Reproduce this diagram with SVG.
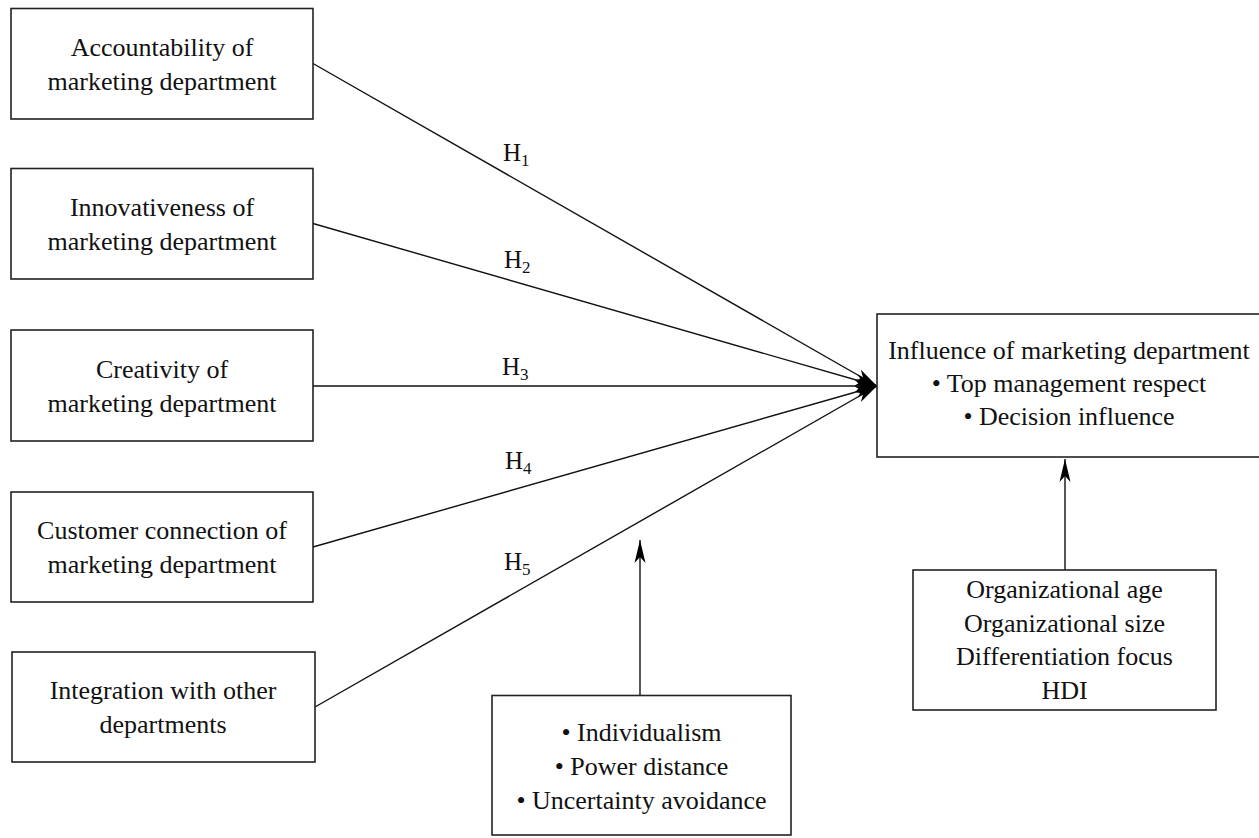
<svg xmlns="http://www.w3.org/2000/svg" width="1259" height="838" viewBox="0 0 1259 838">
<style>
  .box { fill: #ffffff; stroke: #222222; stroke-width: 1.6; }
  .t { font-family: "Liberation Serif", "Times New Roman", serif; font-size: 26px; fill: #111111; text-anchor: middle; }
  .h { font-family: "Liberation Serif", "Times New Roman", serif; font-size: 25px; fill: #111111; }
  .sub { font-size: 17px; }
  .edge { fill: none; stroke: #111111; stroke-width: 1.4; }
</style>
<defs>
  <marker id="arr" markerUnits="userSpaceOnUse" markerWidth="30" markerHeight="20" refX="0" refY="0" viewBox="-24 -10 26 20" orient="auto">
    <path d="M0,0 L-22,-6 L-16,0 L-22,6 Z" fill="#000000"/>
  </marker>
  <marker id="arrv" markerUnits="userSpaceOnUse" markerWidth="30" markerHeight="20" refX="0" refY="0" viewBox="-24 -10 26 20" orient="auto">
    <path d="M0,0 L-23,-5.5 L-17,0 L-23,5.5 Z" fill="#000000"/>
  </marker>
</defs>
<rect width="1259" height="838" fill="#ffffff"/>

<g id="connectors">
  <line class="edge" x1="313" y1="63.5" x2="877" y2="386" marker-end="url(#arr)"/>
  <line class="edge" x1="313" y1="223.5" x2="877" y2="386" marker-end="url(#arr)"/>
  <line class="edge" x1="313" y1="386" x2="877" y2="386" marker-end="url(#arr)"/>
  <line class="edge" x1="313" y1="547" x2="877" y2="386" marker-end="url(#arr)"/>
  <line class="edge" x1="315" y1="707" x2="877" y2="386" marker-end="url(#arr)"/>
  <line class="edge" x1="640" y1="695" x2="640" y2="540" marker-end="url(#arrv)"/>
  <line class="edge" x1="1065" y1="570" x2="1065" y2="459" marker-end="url(#arrv)"/>
  <text class="h" x="503" y="161">H<tspan class="sub" dy="5">1</tspan></text>
  <text class="h" x="504" y="268">H<tspan class="sub" dy="5">2</tspan></text>
  <text class="h" x="502" y="375">H<tspan class="sub" dy="5">3</tspan></text>
  <text class="h" x="505" y="469">H<tspan class="sub" dy="5">4</tspan></text>
  <text class="h" x="504" y="570">H<tspan class="sub" dy="5">5</tspan></text>
</g>

<g id="accountability">
  <rect class="box" x="11" y="8.5" width="302" height="110.5"/>
  <text class="t" x="162" y="55.5">Accountability of</text>
  <text class="t" x="162" y="89.5">marketing department</text>
</g>
<g id="innovativeness">
  <rect class="box" x="11" y="168.5" width="302" height="110.5"/>
  <text class="t" x="162" y="215.5">Innovativeness of</text>
  <text class="t" x="162" y="249.5">marketing department</text>
</g>
<g id="creativity">
  <rect class="box" x="11" y="330" width="302" height="111"/>
  <text class="t" x="162" y="377.5">Creativity of</text>
  <text class="t" x="162" y="411.5">marketing department</text>
</g>
<g id="customer-connection">
  <rect class="box" x="11" y="492" width="302" height="110"/>
  <text class="t" x="162" y="539">Customer connection of</text>
  <text class="t" x="162" y="573">marketing department</text>
</g>
<g id="integration">
  <rect class="box" x="12" y="652" width="303" height="110"/>
  <text class="t" x="163" y="699">Integration with other</text>
  <text class="t" x="163" y="733">departments</text>
</g>
<g id="influence">
  <rect class="box" x="877" y="314" width="384" height="143"/>
  <text class="t" x="1069" y="359">Influence of marketing department</text>
  <text class="t" x="1069" y="392">• Top management respect</text>
  <text class="t" x="1069" y="425">• Decision influence</text>
</g>
<g id="controls">
  <rect class="box" x="913" y="570" width="303" height="140"/>
  <text class="t" x="1064.5" y="598">Organizational age</text>
  <text class="t" x="1064.5" y="631.5">Organizational size</text>
  <text class="t" x="1064.5" y="665">Differentiation focus</text>
  <text class="t" x="1064.5" y="698.5">HDI</text>
</g>
<g id="culture">
  <rect class="box" x="492" y="695.5" width="299" height="139.5"/>
  <text class="t" x="641.5" y="741">• Individualism</text>
  <text class="t" x="641.5" y="775">• Power distance</text>
  <text class="t" x="641.5" y="809">• Uncertainty avoidance</text>
</g>
</svg>
